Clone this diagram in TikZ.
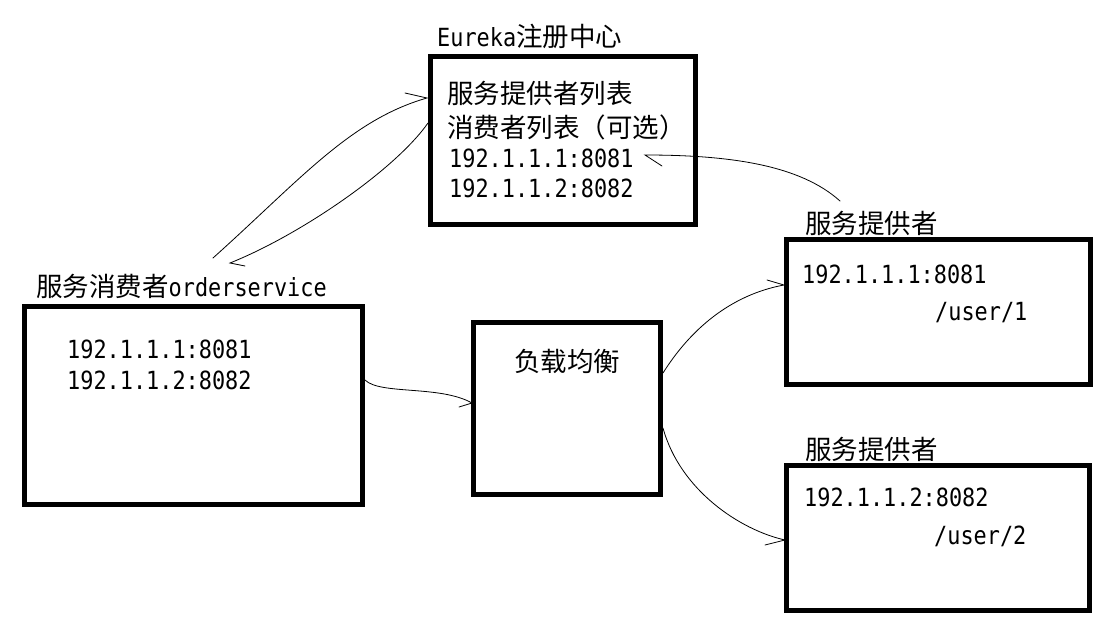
\documentclass[tikz,border=0pt]{standalone}
\usepackage{fontspec}
\setmainfont{DejaVu Sans Mono}[FakeStretch=0.875]
\newfontfamily\cjk{Noto Sans CJK SC}
\newcommand\zh[1]{{\cjk\fontsize{26.5}{30}\selectfont #1}}
\begin{document}
\begin{tikzpicture}[x=1pt,y=-1pt,
  box/.style={draw, line width=5pt, rectangle, inner sep=0pt},
  txt/.style={anchor=west, inner sep=0pt, font=\fontsize{25}{29}\selectfont},
  conn/.style={line width=0.8pt, line cap=round}]
\useasboundingbox[fill=white] (0,0) rectangle (1114,634);

% boxes
\node[box, minimum width=265pt, minimum height=168pt] (eureka) at (563,140.5) {};
\node[box, minimum width=338pt, minimum height=198pt] (consumer) at (193.5,405.5) {};
\node[box, minimum width=187pt, minimum height=172pt] (lb) at (567,408.5) {};
\node[box, minimum width=304pt, minimum height=145pt] (prov1) at (938.5,312) {};
\node[box, minimum width=303pt, minimum height=145pt] (prov2) at (938,538) {};

% texts
\node[txt] (etitle) at (437,36) {Eureka\zh{注册中心}};
\node[txt] (el1) at (447,93) {\zh{服务提供者列表}};
\node[txt] (el2) at (447,127) {\zh{消费者列表（可选）}};
\node[txt] (el3) at (449,158.5) {192.1.1.1:8081};
\node[txt] (el4) at (449,188.5) {192.1.1.2:8082};

\node[txt] (ctitle) at (36,286) {\zh{服务消费者}orderservice};
\node[txt] (cl1) at (67,349) {192.1.1.1:8081};
\node[txt] (cl2) at (67,380) {192.1.1.2:8082};

\node[txt] (lbt) at (514,361) {\zh{负载均衡}};

\node[txt] (p1title) at (805,223) {\zh{服务提供者}};
\node[txt] (p1l1) at (802,274) {192.1.1.1:8081};
\node[txt] (p1l2) at (935,313) {/user/1};

\node[txt] (p2title) at (805,449) {\zh{服务提供者}};
\node[txt] (p2l1) at (804,497) {192.1.1.2:8082};
\node[txt] (p2l2) at (934,536) {/user/2};

% connector end points
\coordinate (s1) at (213,258);  \coordinate (t1) at (427,98);  \coordinate (b1) at (405,93);
\coordinate (s2) at (428,123);  \coordinate (t2) at (230,263); \coordinate (b2) at (245,266);
\coordinate (s3) at (840,201);  \coordinate (t3) at (645,155); \coordinate (b3) at (662,166);
\coordinate (s4) at (365,380);  \coordinate (t4) at (472,403); \coordinate (b4) at (459,407);
\coordinate (s5) at (663,373);  \coordinate (t5) at (784,285); \coordinate (b5) at (767,280);
\coordinate (s6) at (663,428);  \coordinate (t6) at (785,540); \coordinate (b6) at (765,545);

% connectors with single-stroke heads
\draw[conn] (s1) .. controls (300,180) and (350,120) .. (t1) -- (b1);
\draw[conn] (s2) .. controls (395,170) and (300,235) .. (t2) -- (b2);
\draw[conn] (s3) .. controls (800,165) and (730,155) .. (t3) -- (b3);
\draw[conn] (s4) .. controls (380,395) and (440,385) .. (t4) -- (b4);
\draw[conn] (s5) .. controls (690,330) and (730,295) .. (t5) -- (b5);
\draw[conn] (s6) .. controls (680,490) and (740,530) .. (t6) -- (b6);
\end{tikzpicture}
\end{document}
